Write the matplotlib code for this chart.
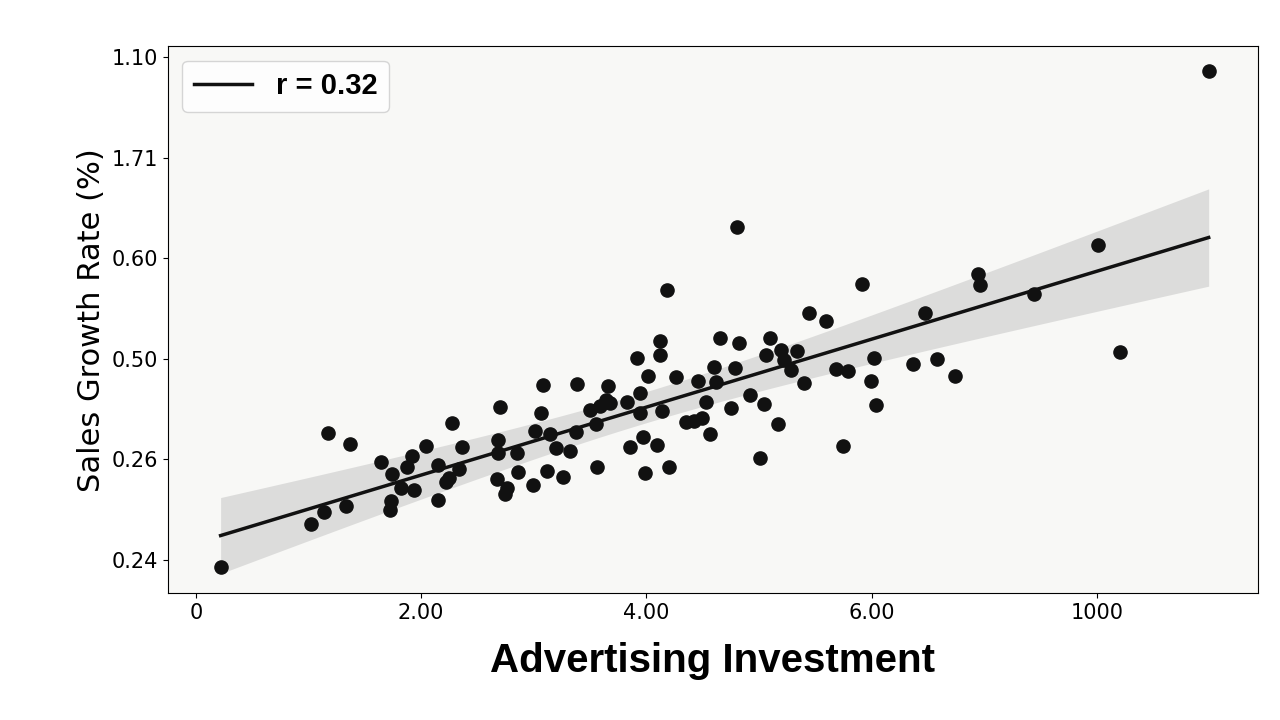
import numpy as np
import matplotlib.pyplot as plt

# scatter points, in axis units (x ticks every 2, y ticks every 1)
x_vals = [0.22, 1.02, 1.14, 1.33, 1.17, 1.37, 1.64, 1.74, 1.72, 1.73, 1.82, 1.87, 1.94, 1.92,
          2.04, 2.15, 2.15, 2.22, 2.27, 2.25, 2.34, 2.36, 2.67, 2.70, 2.68, 2.68, 2.74, 2.76,
          2.85, 2.86, 2.99, 3.01, 3.06, 3.08, 3.12, 3.14, 3.20, 3.26, 3.32, 3.37, 3.38, 3.50,
          3.56, 3.55, 3.59, 3.64, 3.66, 3.68, 3.83, 3.85, 3.92, 3.94, 3.94, 3.97, 3.99, 4.01,
          4.09, 4.12, 4.12, 4.14, 4.18, 4.20, 4.26, 4.35, 4.42, 4.46, 4.49, 4.53, 4.56, 4.60,
          4.62, 4.65, 4.75, 4.80, 4.79, 4.82, 4.92, 5.01, 5.04, 5.06, 5.10, 5.17, 5.19, 5.22,
          5.28, 5.34, 5.40, 5.44, 5.59, 5.68, 5.74, 5.79, 5.91, 5.99, 6.02, 6.04, 6.37, 6.47,
          6.58, 6.74, 6.94, 6.96, 7.44, 8.01, 8.20, 8.99]
y_vals = [-0.07, 0.36, 0.48, 0.54, 1.26, 1.15, 0.98, 0.86, 0.50, 0.59, 0.72, 0.93, 0.70, 1.03,
          1.13, 0.60, 0.95, 0.78, 1.36, 0.82, 0.91, 1.12, 0.81, 1.52, 1.19, 1.06, 0.66, 0.72,
          1.06, 0.88, 0.75, 1.28, 1.46, 1.74, 0.89, 1.25, 1.11, 0.83, 1.08, 1.27, 1.75, 1.49,
          0.93, 1.35, 1.53, 1.59, 1.73, 1.56, 1.57, 1.12, 2.01, 1.66, 1.46, 1.22, 0.87, 1.83,
          1.14, 2.04, 2.18, 1.48, 2.69, 0.93, 1.82, 1.37, 1.38, 1.78, 1.41, 1.57, 1.25, 1.92,
          1.77, 2.21, 1.51, 3.31, 1.91, 2.16, 1.64, 1.01, 1.55, 2.04, 2.21, 1.35, 2.09, 1.99,
          1.89, 2.08, 1.76, 2.46, 2.38, 1.90, 1.13, 1.88, 2.74, 1.78, 2.01, 1.54, 1.95, 2.46,
          2.00, 1.83, 2.84, 2.73, 2.65, 3.13, 2.07, 4.86]
x_ticks = [0, 2, 4, 6, 8]
x_labels = ["0", "2.00", "4.00", "6.00", "1000"]
y_ticks = [0, 1, 2, 3, 4, 5]
y_labels = ["0.24", "0.26", "0.50", "0.60", "1.71", "1.10"]

x = np.array(x_vals)
y = np.array(y_vals)
slope, inter = np.polyfit(x, y, 1)
xs = np.linspace(x.min(), x.max(), 200)
ys = slope * xs + inter
n = len(x)
resid = y - (slope * x + inter)
s = np.sqrt(np.sum(resid**2) / (n - 2))
se = s * np.sqrt(1 / n + (xs - x.mean())**2 / np.sum((x - x.mean())**2))
band = 1.98 * se * 1.9

fig, ax = plt.subplots(figsize=(12.8, 7.2), dpi=100)
fig.subplots_adjust(left=0.131, right=0.983, top=0.936, bottom=0.176)
ax.set_facecolor("#f8f8f6")
ax.fill_between(xs, ys - band, ys + band, color="#bbbbbb", alpha=0.45, lw=0)
ax.scatter(x, y, s=90, color="#111111", zorder=3)
ax.plot(xs, ys, color="#111111", lw=2.5, label="r = 0.32", zorder=2)

ax.set_xlim(-0.25, 9.43)
ax.set_ylim(-0.33, 5.11)
ax.set_xticks(x_ticks)
ax.set_xticklabels(x_labels)
ax.set_yticks(y_ticks)
ax.set_yticklabels(y_labels)
ax.tick_params(labelsize=15)
ax.set_xlabel("Advertising Investment", fontsize=29, fontweight="bold",
              family="Liberation Sans", labelpad=14)
ax.set_ylabel("Sales Growth Rate (%)", fontsize=22)
leg = ax.legend(loc="upper left", prop={"size": 21, "weight": "bold", "family": "Liberation Sans"},
                handlelength=2)
fig.savefig("out.png")
